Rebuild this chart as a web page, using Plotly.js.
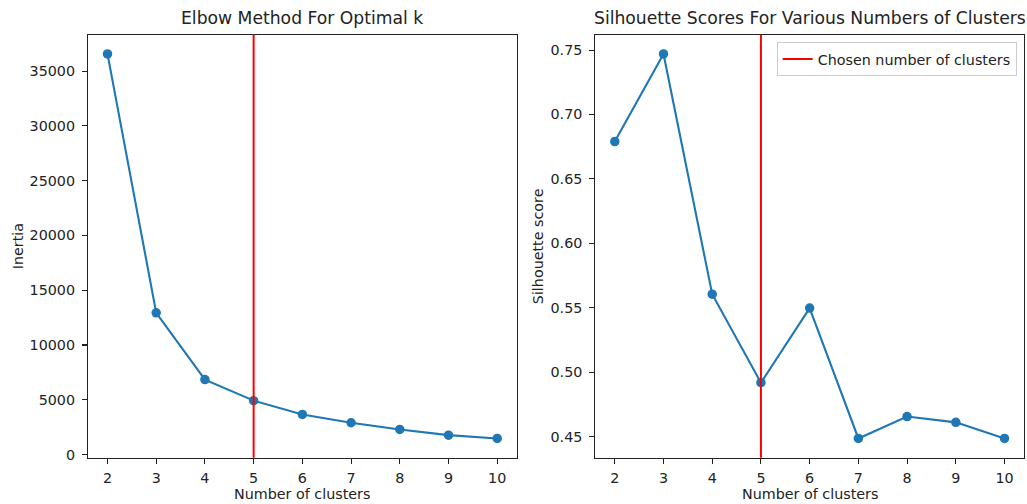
<!DOCTYPE html>
<html>
<head>
<meta charset="utf-8">
<script src="https://cdn.plot.ly/plotly-3.0.1.min.js"></script>
<style>
  html, body { margin: 0; padding: 0; background: #fff; }
  #chart { width: 1027px; height: 504px; }
</style>
</head>
<body>
<div id="chart"></div>
<script>
// Number of clusters tried
const clusterCounts = [2, 3, 4, 5, 6, 7, 8, 9, 10];
// K-means inertia for each k
const inertiaValues = [36570, 12940, 6840, 4920, 3660, 2900, 2290, 1770, 1465];
// Mean silhouette score for each k
const silhouetteValues = [0.679, 0.747, 0.5605, 0.4918, 0.5497, 0.4485, 0.4655, 0.4610, 0.4485];
// Selected k
const chosenK = 5;
const legendLabel = 'Chosen number of clusters';
const leftTicks = [0, 5000, 10000, 15000, 20000, 25000, 30000, 35000];
const rightTicks = [0.45, 0.50, 0.55, 0.60, 0.65, 0.70, 0.75];

// matplotlib-style 5% padding around the data
function padRange(vals) {
  const lo = Math.min(...vals), hi = Math.max(...vals);
  const m = (hi - lo) * 0.05;
  return [lo - m, hi + m];
}

const W = 1027, H = 504;
const FONT = 'DejaVu Sans, sans-serif';
const blue = '#1f77b4';
const fs = 14.3;
const titleFs = 17.2;

const lineStyle = { color: blue, width: 2.1 };
const markerStyle = { color: blue, size: 9.5 };

const traces = [
  {
    x: clusterCounts, y: inertiaValues, xaxis: 'x', yaxis: 'y',
    mode: 'lines+markers', line: lineStyle, marker: markerStyle,
    showlegend: false, hoverinfo: 'x+y'
  },
  {
    x: clusterCounts, y: silhouetteValues, xaxis: 'x2', yaxis: 'y2',
    mode: 'lines+markers', line: lineStyle, marker: markerStyle,
    showlegend: false, hoverinfo: 'x+y'
  },
  // legend entry for the chosen-k line
  {
    x: [null], y: [null], xaxis: 'x2', yaxis: 'y2', mode: 'lines',
    line: { color: 'red', width: 2 }, name: legendLabel, showlegend: true
  }
];

const xr = padRange(clusterCounts);
const yTop = 1 - 34.7 / H, yBot = 1 - 457.7 / H;

const axisCommon = {
  showgrid: false, zeroline: false,
  showline: true, mirror: true, linecolor: '#222', linewidth: 1.1,
  ticks: 'outside', ticklen: 5, tickwidth: 1.1, tickcolor: '#222',
  tickfont: { family: FONT, size: fs, color: '#222' },
  ticklabelstandoff: 4,
  fixedrange: true
};

const layout = {
  width: W, height: H,
  margin: { l: 0, r: 0, t: 0, b: 0 },
  paper_bgcolor: '#fff', plot_bgcolor: '#fff',
  font: { family: FONT, size: fs, color: '#222' },
  xaxis: Object.assign({}, axisCommon, {
    domain: [88 / W, 516.7 / W], range: xr, tickmode: 'array', tickvals: clusterCounts,
    anchor: 'y', ticklabelstandoff: 2
  }),
  yaxis: Object.assign({}, axisCommon, {
    domain: [yBot, yTop], range: padRange(inertiaValues), tickmode: 'array', tickvals: leftTicks,
    tickformat: 'd', anchor: 'x'
  }),
  xaxis2: Object.assign({}, axisCommon, {
    domain: [595.3 / W, 1024 / W], range: xr, tickmode: 'array', tickvals: clusterCounts,
    anchor: 'y2', ticklabelstandoff: 2
  }),
  yaxis2: Object.assign({}, axisCommon, {
    domain: [yBot, yTop], range: padRange(silhouetteValues), tickmode: 'array', tickvals: rightTicks,
    tickformat: '.2f', anchor: 'x2'
  }),
  shapes: [
    { type: 'line', xref: 'x', yref: 'y domain', x0: chosenK, x1: chosenK, y0: 0, y1: 1,
      line: { color: 'red', width: 2 }, layer: 'above' },
    { type: 'line', xref: 'x2', yref: 'y2 domain', x0: chosenK, x1: chosenK, y0: 0, y1: 1,
      line: { color: 'red', width: 2 }, layer: 'above' }
  ],
  legend: {
    x: 1016.7 / W, xanchor: 'right', y: 1 - 42.3 / H, yanchor: 'top',
    bgcolor: 'rgba(255,255,255,0.8)', bordercolor: '#cccccc', borderwidth: 1,
    font: { family: FONT, size: fs, color: '#222' },
    tracegroupgap: 0, itemwidth: 30
  },
  annotations: [
    { text: 'Elbow Method For Optimal k', xref: 'paper', yref: 'paper',
      x: (88 + 516.7) / 2 / W, y: 1 - 18 / H, xanchor: 'center', yanchor: 'middle',
      showarrow: false, font: { family: FONT, size: titleFs, color: '#222' } },
    { text: 'Silhouette Scores For Various Numbers of Clusters', xref: 'paper', yref: 'paper',
      x: (595.3 + 1024) / 2 / W, y: 1 - 18 / H, xanchor: 'center', yanchor: 'middle',
      showarrow: false, font: { family: FONT, size: titleFs, color: '#222' } },
    { text: 'Number of clusters', xref: 'paper', yref: 'paper',
      x: (88 + 516.7) / 2 / W, y: 1 - 494 / H, xanchor: 'center', yanchor: 'middle',
      showarrow: false, font: { family: FONT, size: fs, color: '#222' } },
    { text: 'Number of clusters', xref: 'paper', yref: 'paper',
      x: (595.3 + 1024) / 2 / W, y: 1 - 494 / H, xanchor: 'center', yanchor: 'middle',
      showarrow: false, font: { family: FONT, size: fs, color: '#222' } },
    { text: 'Inertia', xref: 'paper', yref: 'paper', textangle: -90,
      x: 18 / W, y: (yTop + yBot) / 2, xanchor: 'center', yanchor: 'middle',
      showarrow: false, font: { family: FONT, size: fs, color: '#222' } },
    { text: 'Silhouette score', xref: 'paper', yref: 'paper', textangle: -90,
      x: 538 / W, y: (yTop + yBot) / 2, xanchor: 'center', yanchor: 'middle',
      showarrow: false, font: { family: FONT, size: fs, color: '#222' } }
  ]
};

Plotly.newPlot('chart', traces, layout, { displayModeBar: false, staticPlot: true });
</script>
</body>
</html>
